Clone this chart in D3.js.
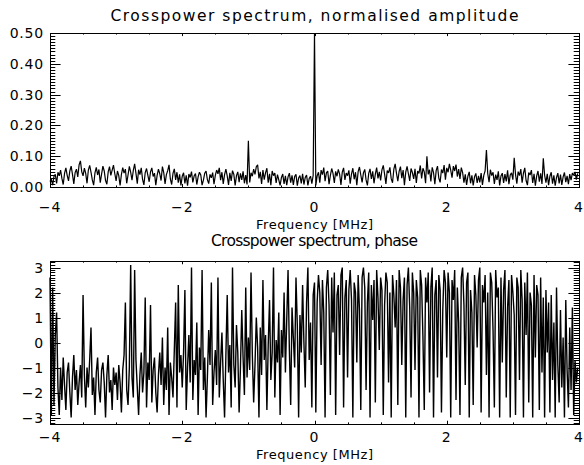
<!DOCTYPE html>
<html><head><meta charset="utf-8">
<script src="https://cdn.jsdelivr.net/npm/d3@7"></script>
<style>
html,body{margin:0;padding:0;background:#fff;}
svg{display:block;}
text{font-family:"DejaVu Sans",sans-serif;fill:#000;}
</style></head><body>
<script>
// ---- data ----
const freqStart = -4, freqStep = 0.02;   // MHz sampling grid
const xTicks = [-4, -2, 0, 2, 4];
const ampTicks = [0.00, 0.10, 0.20, 0.30, 0.40, 0.50];
const phaseTicks = [-3, -2, -1, 0, 1, 2, 3];
const titles = ["Crosspower spectrum, normalised amplitude", "Crosspower spectrum, phase"];
const xLabel = "Frequency [MHz]";

const amplitude = [
 .018,.026,.006,.034,.041,.012,.048,.036,.055,.028,.008,.044,.062,.038,.020,.052,.068,.041,.010,.047,.058,.033,.072,.085,.050,
 .036,.061,.044,.012,.055,.070,.048,.023,.006,.046,.064,.039,.057,.014,.042,.068,.052,.021,.009,.049,.066,.038,.055,.071,.043,
 .020,.052,.037,.005,.041,.063,.045,.058,.012,.039,.067,.048,.022,.054,.075,.044,.011,.056,.040,.062,.025,.007,.047,.060,.038,
 .017,.049,.062,.034,.045,.006,.038,.058,.043,.021,.066,.047,.010,.040,.053,.072,.026,.008,.044,.059,.023,.048,.014,.041,.005,
 .035,.046,.012,.038,.004,.042,.031,.050,.015,.036,.044,.008,.033,.048,.039,.006,.022,.045,.052,.024,.011,.041,.030,.047,.009,
 .038,.055,.043,.062,.022,.048,.010,.040,.058,.036,.007,.046,.020,.053,.041,.005,.037,.049,.016,.044,.023,.051,.012,.039,.008,
 .150,.015,.046,.035,.058,.041,.066,.072,.028,.049,.010,.055,.024,.047,.061,.014,.043,.006,.052,.037,.045,.013,.040,.023,.005,
 .031,.042,.010,.036,.006,.033,.045,.014,.038,.007,.034,.041,.004,.029,.037,.012,.043,.008,.031,.039,.005,.028,.035,.011,.038,
 .500,.005,.036,.048,.014,.055,.040,.063,.019,.046,.052,.009,.038,.060,.044,.013,.051,.035,.057,.042,.007,.048,.062,.023,.045,
 .037,.054,.011,.043,.061,.025,.048,.006,.050,.065,.039,.015,.046,.057,.023,.005,.044,.059,.026,.051,.012,.042,.063,.028,.049,
 .021,.056,.070,.042,.010,.053,.046,.064,.027,.014,.058,.075,.044,.019,.051,.066,.029,.055,.006,.048,.067,.043,.020,.060,.047,
 .026,.059,.013,.052,.044,.070,.028,.061,.049,.012,.100,.041,.056,.018,.064,.047,.009,.053,.068,.029,.015,.057,.045,.071,.024,
 .062,.048,.075,.055,.030,.068,.052,.073,.034,.058,.026,.063,.047,.014,.041,.007,.035,.049,.012,.038,.005,.033,.044,.013,.036,
 .015,.045,.007,.038,.052,.120,.043,.016,.056,.037,.048,.010,.040,.023,.051,.005,.036,.045,.013,.042,.018,.054,.009,.039,.046,
 .024,.095,.041,.011,.050,.037,.058,.014,.045,.062,.021,.006,.047,.039,.055,.013,.043,.004,.036,.052,.017,.044,.010,.093,.038,
 .014,.043,.006,.035,.048,.011,.038,.004,.031,.045,.012,.040,.007,.033,.047,.016,.036,.009,.042,.022,.045,.038,.049,.024,.044
];

const phase = [
 2.6,-2.9,2.2,-2.5,0.3,1.2,-1.8,-2.9,-1.0,-2.3,-0.6,-1.7,-2.7,-1.2,-0.8,-2.0,-3.0,-1.4,-0.5,-1.9,-1.1,-2.5,-1.6,-0.9,-2.2,
 1.9,-1.3,-2.6,-1.0,-1.8,-0.7,0.6,-2.1,-1.4,-2.9,-1.2,-0.6,-1.9,-2.4,-1.1,-0.8,-1.6,-3.0,-1.3,-0.5,-2.0,-1.5,-2.7,-1.0,-1.7,
 -1.2,-2.3,-0.9,-1.6,-2.8,-1.1,-0.5,1.6,-1.9,-2.5,-1.0,3.1,-1.4,-2.2,2.9,-0.7,-1.8,-2.9,-1.3,-0.4,-2.0,-1.2,1.8,-2.6,-0.8,
 -1.5,1.5,-2.4,-1.1,-0.6,-2.0,-2.8,-1.3,-0.4,-1.7,0.2,-2.5,-1.0,-1.9,0.6,-2.9,-0.8,-1.4,-2.2,-0.3,1.6,-2.6,2.3,-1.2,-0.5,
 -1.8,-0.4,2.1,-2.7,-1.0,0.3,-1.6,3.0,-2.3,-0.7,-1.3,0.8,-2.9,-0.2,-1.1,2.9,-1.9,-0.6,-3.0,-1.4,0.5,-0.9,2.4,-2.5,-1.2,
 -0.3,-1.7,2.6,-2.2,-0.8,0.4,-1.5,-3.0,-0.5,1.9,-1.2,-0.1,-2.6,3.0,-0.9,-1.8,0.7,-0.4,-2.8,-1.0,1.3,-0.6,-2.1,2.2,-1.4,
 0.2,-1.1,2.8,-0.5,-2.4,-0.9,1.0,-0.2,-3.0,0.6,-1.3,2.5,-0.7,0.3,-2.7,-0.1,1.7,-1.5,-0.4,3.0,-2.2,0.1,-0.8,1.2,-2.9,
 0.5,-0.6,2.0,-1.2,0.9,2.9,-0.3,-2.5,1.4,0.2,-1.0,2.6,0.7,-3.0,1.1,-0.4,2.3,0.0,-1.8,1.6,3.0,-0.7,0.8,-2.6,1.9,
 2.4,-2.8,1.6,2.7,2.0,-0.9,2.5,1.2,-3.0,2.2,2.9,1.5,-2.1,2.6,0.4,2.8,-2.9,1.9,2.3,-0.5,2.7,3.0,-2.6,1.8,2.5,
 -1.4,2.1,2.9,1.7,-3.0,2.4,2.0,-0.8,2.7,1.3,-2.7,2.6,3.0,2.2,-1.9,1.6,2.8,-3.0,2.3,0.9,2.5,-2.4,2.9,1.8,-0.3,
 2.6,2.1,-2.9,1.5,2.8,2.4,-1.6,2.0,-3.0,2.7,1.9,0.6,2.5,-2.5,2.9,2.2,-0.9,1.7,2.6,-3.0,2.3,3.0,1.4,-2.2,2.8,
 2.0,-1.1,2.5,1.8,-3.0,2.9,2.3,0.2,-2.7,2.6,1.6,2.8,-2.0,2.2,3.0,-3.0,1.9,2.5,-1.4,2.7,2.1,-2.8,1.3,2.9,2.4,
 -0.6,2.8,2.0,-3.0,2.5,1.7,2.9,-2.3,2.2,0.8,-2.9,2.6,3.0,1.5,-1.7,2.4,2.8,-3.0,2.1,1.2,-2.5,2.7,1.9,-0.2,2.5,
 3.0,-2.8,2.3,1.6,2.7,-1.3,2.0,-3.0,2.8,2.4,0.5,-2.6,2.9,1.8,2.2,-3.0,2.6,-0.8,2.1,2.9,-2.2,1.4,2.5,-3.0,2.7,
 2.0,1.1,-2.9,2.6,2.2,-1.5,2.9,1.7,-3.0,2.4,0.3,2.8,-2.4,2.0,1.5,-3.0,2.7,-0.6,2.3,1.9,-2.7,2.6,-1.2,1.8,-3.0,
 2.1,-0.4,1.6,-2.8,1.9,-1.5,0.8,-3.0,2.2,-0.9,-2.4,1.3,-1.8,0.2,-3.0,1.7,-1.1,-2.6,0.6,-1.9,1.4,-2.9,-0.7,-1.6,-1.0
];

// ---- layout ----
const W = 584, H = 465;
const svg = d3.select("body").append("svg").attr("width", W).attr("height", H);
svg.append("rect").attr("width", W).attr("height", H).attr("fill", "#fff");

const left = 50, right = 579;
const panels = [
  {values: amplitude, yDomain: [0, 0.5], top: 33, bottom: 187, ticks: ampTicks, sw: 1.2,
   fmt: d3.format(".2f"), minorStep: 0.01, title: titles[0], titleLen: 408, titleY: 21, tickLabY: 212, xLabY: 229},
  {values: phase, yDomain: [-3.26, 3.26], top: 261, bottom: 424, ticks: phaseTicks, sw: 1.4,
   fmt: d => (d < 0 ? "\u2212" + Math.abs(d) : String(d)), minorStep: 0.1, title: titles[1], titleLen: 207, titleY: 246, tickLabY: 442, xLabY: 459}
];

const x = d3.scaleLinear().domain([-4, 4]).range([left, right]);
const minus = s => s.replace("-", "\u2212");

panels.forEach(p => {
  const y = d3.scaleLinear().domain(p.yDomain).range([p.bottom, p.top]);
  const g = svg.append("g");
  const ph = p.bottom - p.top, pw = right - left;
  const xMaj = 0.02 * ph, yMaj = 0.02 * pw;

  // data
  const pts = p.values.map((v, i) => [freqStart + i * freqStep, v]);
  g.append("path").datum(pts)
    .attr("fill", "none").attr("stroke", "#000").attr("stroke-width", p.sw)
    .attr("stroke-linejoin", "miter").attr("stroke-miterlimit", 2)
    .attr("d", d3.line().x(d => x(d[0])).y(d => y(d[1])));

  // box
  g.append("rect").attr("x", left).attr("y", p.top).attr("width", pw).attr("height", ph)
    .attr("fill", "none").attr("stroke", "#000").attr("stroke-width", 1).attr("shape-rendering", "crispEdges");

  // x ticks (bottom & top, inward)
  const xMinor = d3.range(-4, 4.001, 0.5);
  xMinor.forEach(t => {
    const major = xTicks.includes(t);
    const len = major ? xMaj : xMaj / 2;
    const px = Math.round(x(t)) + 0.5;
    g.append("line").attr("x1", px).attr("x2", px).attr("y1", p.bottom).attr("y2", p.bottom - len).attr("stroke", "#000");
    g.append("line").attr("x1", px).attr("x2", px).attr("y1", p.top).attr("y2", p.top + len).attr("stroke", "#000");
  });
  xTicks.forEach(t => {
    g.append("text").attr("x", x(t)).attr("y", p.tickLabY).attr("text-anchor", "middle")
      .attr("font-size", 14).attr("letter-spacing", 1)
      .text(minus(String(t)));
  });

  // y ticks
  const lo = p.yDomain[0], hi = p.yDomain[1];
  const start = Math.ceil(lo / p.minorStep - 1e-6), end = Math.floor(hi / p.minorStep + 1e-6);
  for (let k = start; k <= end; k++) {
    const t = k * p.minorStep;
    const major = p.ticks.some(m => Math.abs(m - t) < 1e-6);
    const len = major ? yMaj : yMaj / 2;
    const py = Math.round(y(t)) + 0.5;
    g.append("line").attr("x1", left).attr("x2", left + len).attr("y1", py).attr("y2", py).attr("stroke", "#000");
    g.append("line").attr("x1", right).attr("x2", right - len).attr("y1", py).attr("y2", py).attr("stroke", "#000");
  }
  p.ticks.forEach(t => {
    g.append("text").attr("x", left - 6).attr("y", y(t) + 5).attr("text-anchor", "end")
      .attr("font-size", 14).attr("letter-spacing", 0.8)
      .text(p.fmt(t));
  });

  // titles
  g.append("text").attr("x", (left + right) / 2).attr("y", p.titleY).attr("text-anchor", "middle")
    .attr("font-size", 15.5).attr("textLength", p.titleLen).attr("lengthAdjust", "spacing")
    .text(p.title);
  g.append("text").attr("x", (left + right) / 2).attr("y", p.xLabY).attr("text-anchor", "middle")
    .attr("font-size", 13).attr("textLength", 117).attr("lengthAdjust", "spacing")
    .text(xLabel);
});
</script>
</body></html>
